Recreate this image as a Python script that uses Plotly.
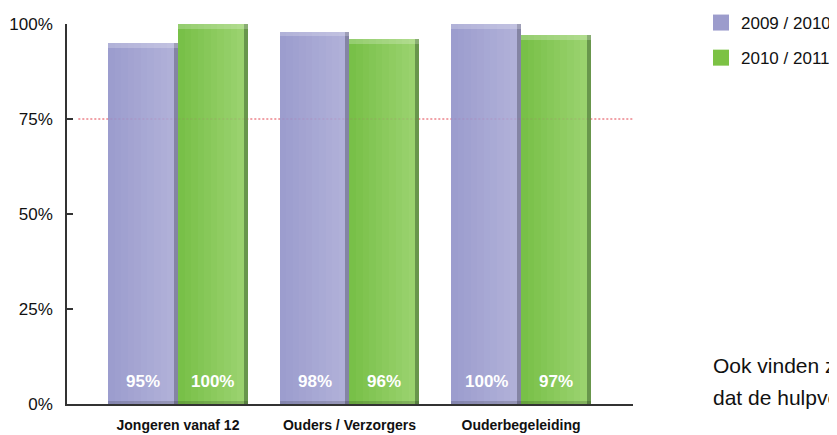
import plotly.graph_objects as go

categories = ["Jongeren vanaf 12", "Ouders / Verzorgers", "Ouderbegeleiding"]
series_names = ["2009 / 2010", "2010 / 2011"]
values_0910 = [95, 98, 100]
values_1011 = [100, 96, 97]
y_tick_vals = [0, 25, 50, 75, 100]
y_tick_text = ["0%", "25%", "50%", "75%", "100%"]
reference_level = 75
note_lines = ["Ook vinden zij", "dat de hulpverlening"]

FONT = "Liberation Sans"
BW = 0.408
x = list(range(len(categories)))

styles = [
    dict(left=(156, 157, 206), right=(176, 176, 216), edge="rgb(132,132,164)", legend="rgb(156,156,204)"),
    dict(left=(120, 192, 72), right=(154, 210, 110), edge="rgb(104,150,76)", legend="rgb(124,194,68)"),
]

def lerp(a, b, t):
    return "rgb(%d,%d,%d)" % tuple(round(a[i] + (b[i] - a[i]) * t) for i in range(3))

fig = go.Figure()
all_vals = [values_0910, values_1011]
for k, vals in enumerate(all_vals):
    st = styles[k]
    off = -BW if k == 0 else 0.0
    N = 10
    main_w = BW * 0.94
    sw = main_w / N
    for j in range(N):
        fig.add_trace(go.Bar(x=x, y=vals, width=sw * 1.02, offset=off + j * sw,
                             marker=dict(color=lerp(st["left"], st["right"], j / (N - 1)), line=dict(width=0)),
                             showlegend=False, hoverinfo="skip"))
    fig.add_trace(go.Bar(x=x, y=vals, width=BW - main_w, offset=off + main_w,
                         marker=dict(color=st["edge"], line=dict(width=0)),
                         showlegend=False, hoverinfo="skip"))
    # top highlight
    fig.add_trace(go.Bar(x=x, y=[1.2] * len(vals), base=[v - 1.2 for v in vals], width=BW, offset=off,
                         marker=dict(color="rgba(255,255,255,0.22)", line=dict(width=0)),
                         showlegend=False, hoverinfo="skip"))
    # bottom shade
    fig.add_trace(go.Bar(x=x, y=[0.7] * len(vals), base=[0] * len(vals), width=BW, offset=off,
                         marker=dict(color="rgba(0,0,0,0.15)", line=dict(width=0)),
                         showlegend=False, hoverinfo="skip"))
    # legend proxy
    fig.add_trace(go.Scatter(x=[None], y=[None], mode="markers", name=series_names[k],
                             legendgroup=series_names[k],
                             marker=dict(symbol="square", size=16, color=st["legend"])))
    for i, v in enumerate(vals):
        fig.add_annotation(x=i + off + BW / 2, y=6.05, xref="x", yref="y",
                           text="%d%%" % v, showarrow=False,
                           font=dict(family=FONT, size=17, color="white", weight="bold"))

fig.add_shape(type="line", xref="paper", yref="y", x0=0.02, x1=1, y0=reference_level, y1=reference_level,
              line=dict(color="rgb(236,90,90)", width=1, dash="2px,2px"), layer="below")
fig.add_shape(type="line", xref="paper", yref="y", x0=0.02, x1=1, y0=reference_level, y1=reference_level,
              line=dict(color="rgba(200,60,120,0.18)", width=1, dash="2px,2px"), layer="above")

for i, t in enumerate(note_lines):
    fig.add_annotation(xref="paper", yref="paper", x=(711 - 67) / 566, y=[0.1026, 0.0184][i],
                       xanchor="left", yanchor="middle", text=t, showarrow=False,
                       font=dict(family=FONT, size=21, color="#111"))

# page body has an 8px margin: plot area target 67..633 x 24..404 in the page
fig.update_layout(
    width=837, height=435, autosize=False,
    margin=dict(l=59, r=212, t=16, b=39, autoexpand=False),
    paper_bgcolor="white", plot_bgcolor="white",
    barmode="overlay", bargap=0,
    font=dict(family=FONT, color="#111"),
    showlegend=True,
    legend=dict(x=(701 - 67) / 566, y=1 + 19 / 380,
                xanchor="left", yanchor="top",
                font=dict(family=FONT, size=17, color="#111"),
                traceorder="grouped", tracegroupgap=10, bgcolor="rgba(0,0,0,0)"),
    xaxis=dict(range=[-0.647, 2.653], tickvals=x, ticktext=categories,
               showline=True, linecolor="#333", linewidth=1.5, ticks="", showgrid=False,
               zeroline=False, ticklabelstandoff=7,
               tickfont=dict(family=FONT, size=14, color="#111", weight="bold")),
    yaxis=dict(range=[0, 100], tickvals=y_tick_vals, ticktext=y_tick_text,
               showline=True, linecolor="#333", linewidth=1.5, ticks="inside", ticklen=6,
               tickcolor="#333", tickwidth=1.5, showgrid=False, zeroline=False,
               ticklabelstandoff=9,
               tickfont=dict(family=FONT, size=17, color="#111")),
)

fig.write_html("out.html")
